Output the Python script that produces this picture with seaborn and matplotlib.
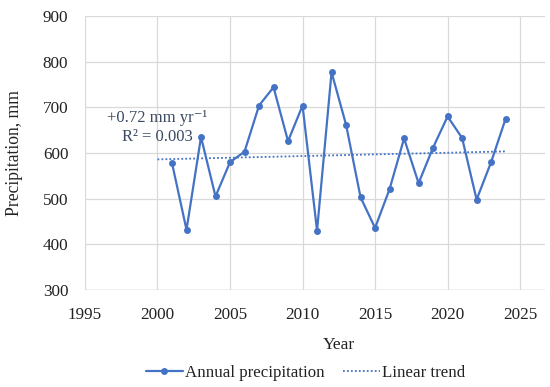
import numpy as np
import matplotlib
matplotlib.use("Agg")
import matplotlib.pyplot as plt
import seaborn as sns

# annual precipitation, mm
years = list(range(2001, 2025))
precip = [578, 432, 635, 505, 580, 603, 704, 744, 626, 704, 430, 777,
          662, 503, 436, 521, 632, 534, 612, 680, 633, 498, 580, 675]
trend_span = [2000, 2024]   # Excel trend drawn one period back

x_ticks = [1995, 2000, 2005, 2010, 2015, 2020, 2025]
y_ticks = [300, 400, 500, 600, 700, 800, 900]

BLUE = "#4472C4"
GRID = "#d9d9d9"
TXT = "#3c4a63"

sns.set_theme(style="white")
plt.rcParams["font.family"] = ["Liberation Serif", "DejaVu Serif"]

fig = plt.figure(figsize=(5.5, 3.87), dpi=100)
ax = fig.add_axes([0.1545, 0.2506, 0.836, 0.708])

sns.lineplot(x=years, y=precip, ax=ax, color=BLUE, lw=1.6, marker="o",
             markersize=5, markeredgewidth=0, label="Annual precipitation")

# linear trend fitted on the data
slope, icept = np.polyfit(years, precip, 1)
tx = np.array(trend_span)
ax.plot(tx, slope * tx + icept, color=BLUE, lw=1.3, ls=(0, (1, 1.2)),
        label="Linear trend")

ax.text(2000.0, 656, "+0.72 mm yr\u207b\u00b9\nR\u00b2 = 0.003", ha="center",
        va="center", fontsize=12, color=TXT, linespacing=1.2)

ax.set_xlim(1995, 2026.7)
ax.set_ylim(300, 900)
ax.set_xticks(x_ticks)
ax.set_yticks(y_ticks)
ax.grid(True, color=GRID, lw=0.9)
for s in ax.spines.values():
    s.set_visible(False)
ax.axhline(300, color="#bfbfbf", lw=1.0, zorder=0)
ax.tick_params(axis="both", length=0, labelsize=12.3, colors="#222222", pad=12)

ax.set_xlabel("Year", fontsize=12.5, color="#222222")
ax.xaxis.set_label_coords(0.552, -0.17)
ax.set_ylabel("Precipitation, mm", fontsize=12.7, color="#222222")
ax.yaxis.set_label_coords(-0.134, 0.5)

ax.get_legend().remove()
h, l = ax.get_legend_handles_labels()
fig.legend(h, l, loc="center", bbox_to_anchor=(0.555, 0.036), ncol=2,
           frameon=False, fontsize=12.2, handlelength=2.2, handletextpad=0.1,
           columnspacing=1.1, labelcolor="#222222")

fig.savefig("out.png", dpi=100)
plt.close()
